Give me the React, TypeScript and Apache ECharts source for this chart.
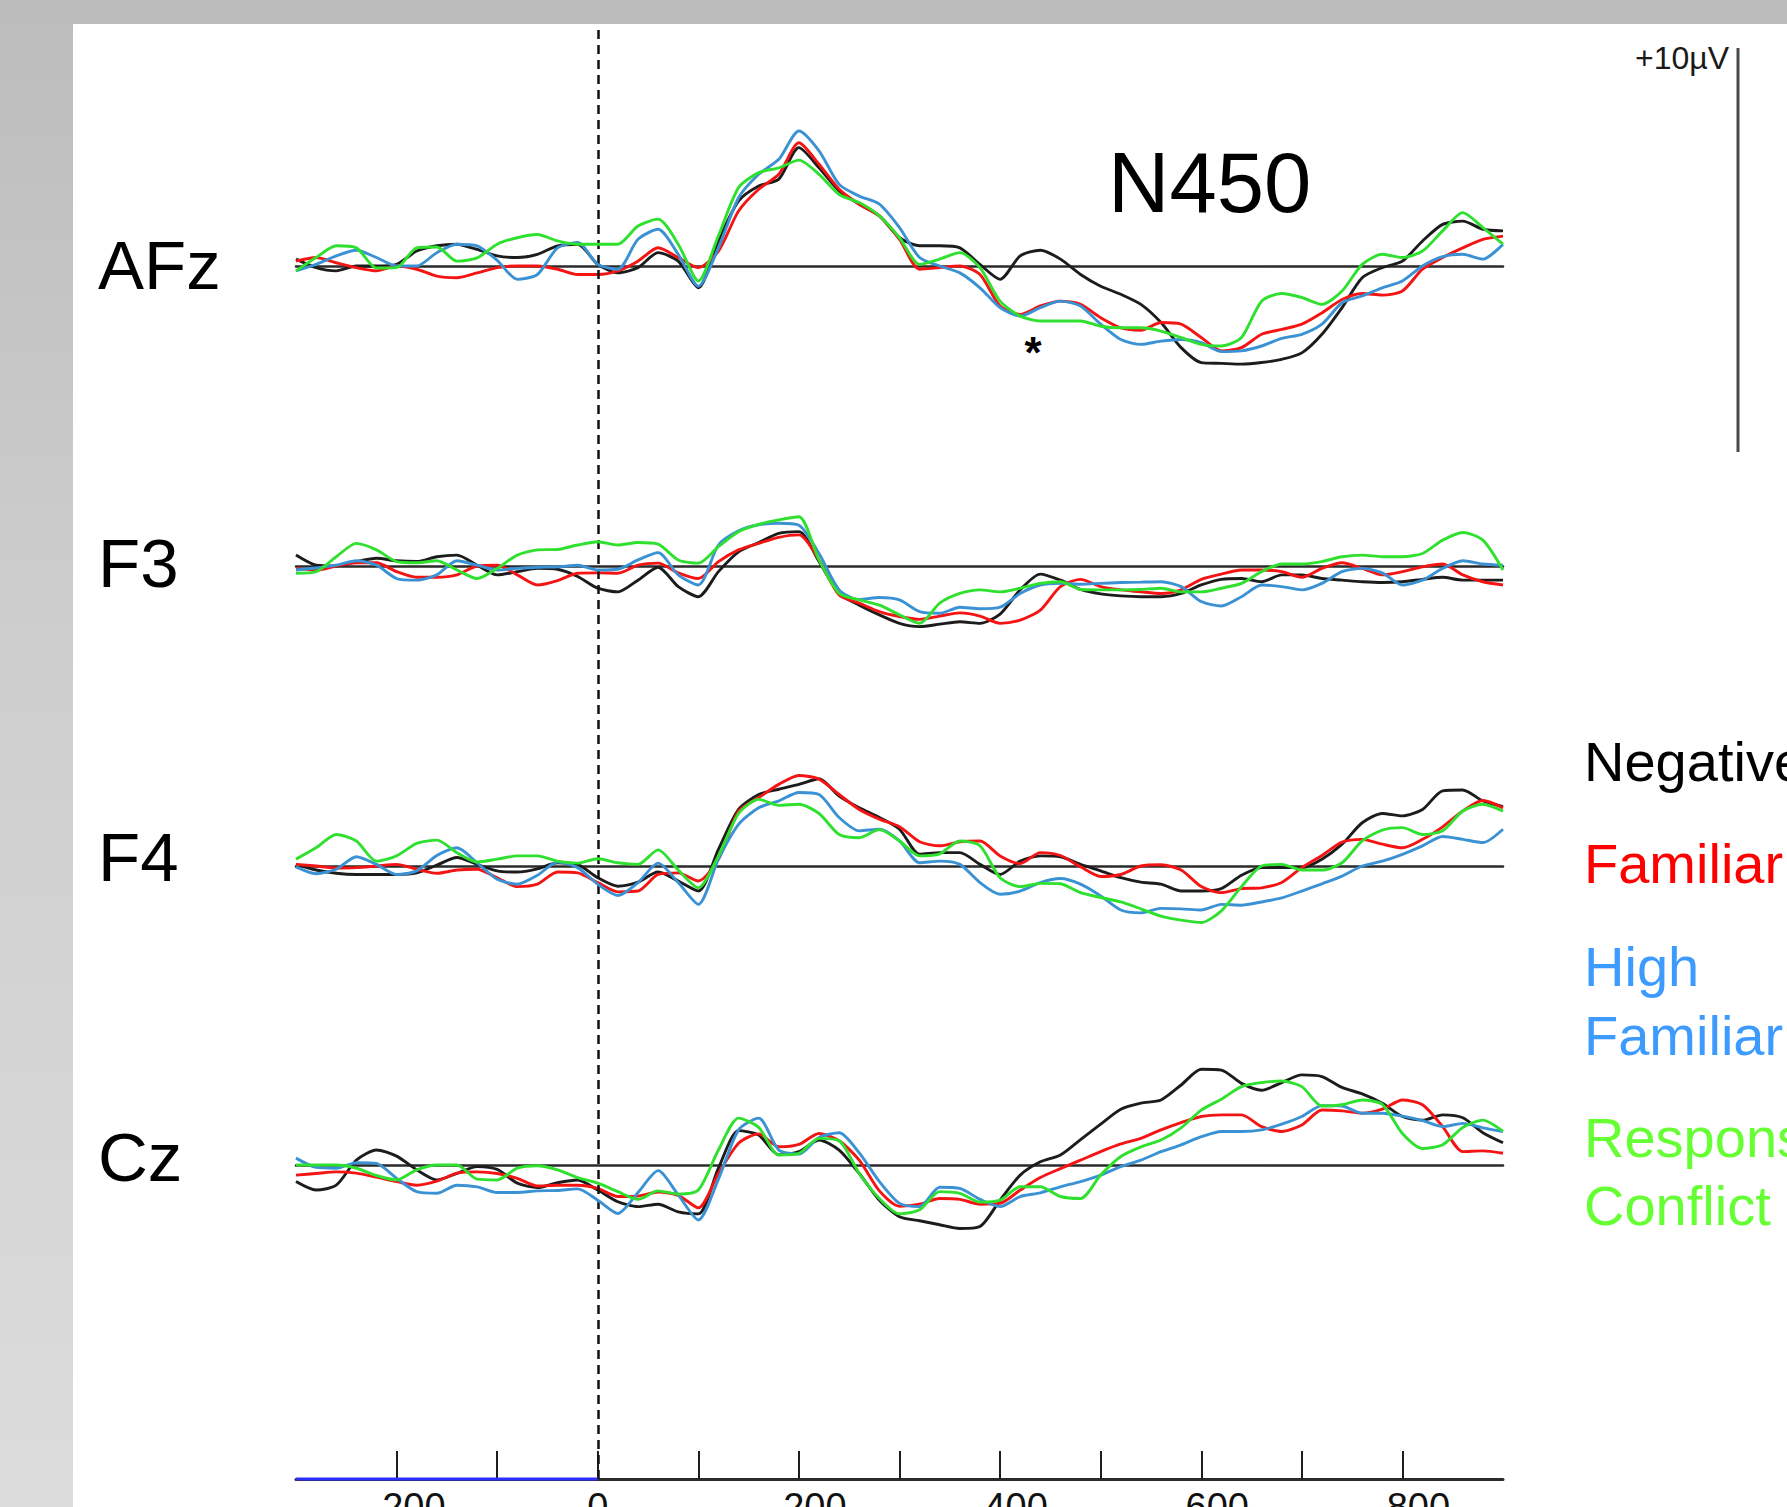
import React, { useEffect, useRef } from "react";
import * as echarts from "echarts";

// ---- DATA (µV) ----
const times = [
  -300, -280, -260, -240, -220, -200, -180, -160, -140, -120,
  -100, -80, -60, -40, -20, 0, 20, 40, 60, 80,
  100, 120, 140, 160, 180, 200, 220, 240, 260, 280,
  300, 320, 340, 360, 380, 400, 420, 440, 460, 480,
  500, 520, 540, 560, 580, 600, 620, 640, 660, 680,
  700, 720, 740, 760, 780, 800, 820, 840, 860, 880, 900,
];

const channelNames = ["AFz", "F3", "F4", "Cz"];
const conditionNames = ["Negative", "Familiar", "High Familiar", "Response Conflict"];
const tickValues = [-200, -100, 0, 100, 200, 300, 400, 500, 600, 700, 800];
const tickLabels = ["-200", "0", "200", "400", "600", "800"];
const scaleLabel = "+10µV";
const componentLabel = "N450";
const significanceMark = "*";
const preStimulus = [-300, 0];

const afzNegative = [0.17, -0.04, -0.12, 0, 0, 0.04, 0.37, 0.5, 0.54, 0.41, 0.25, 0.21, 0.29, 0.5, 0.54, 0.04, -0.17, -0.04, 0.33, 0.12, -0.54, 0.62, 1.61, 1.98, 2.15, 2.93, 2.43, 1.86, 1.53, 1.24, 0.7, 0.5, 0.5, 0.45, 0.04, -0.33, 0.25, 0.39, 0.17, -0.21, -0.5, -0.7, -0.95, -1.4, -2.02, -2.39, -2.41, -2.43, -2.39, -2.31, -2.15, -1.69, -1.03, -0.29, -0.04, 0.12, 0.62, 1.03, 1.11, 0.91, 0.87];
const afzFamiliar = [0.12, 0.21, 0.08, -0.04, -0.12, 0, -0.08, -0.25, -0.29, -0.17, -0.04, 0, 0, -0.08, -0.21, -0.21, -0.12, 0.12, 0.45, 0.21, -0.04, 0.37, 1.36, 1.9, 2.27, 3.05, 2.52, 1.9, 1.53, 1.24, 0.66, -0.08, -0.04, 0, -0.21, -0.99, -1.2, -0.99, -0.87, -0.95, -1.28, -1.53, -1.59, -1.4, -1.44, -1.77, -2.1, -2.02, -1.69, -1.57, -1.44, -1.16, -0.83, -0.68, -0.72, -0.62, -0.08, 0.21, 0.45, 0.66, 0.74];
const afzHighFamiliar = [-0.12, 0.04, 0.25, 0.39, 0.21, 0, 0, 0.33, 0.54, 0.5, 0.14, -0.33, -0.21, 0.45, 0.58, 0.04, -0.08, 0.66, 0.91, 0.29, -0.5, 0.45, 1.69, 2.27, 2.64, 3.34, 2.85, 2.02, 1.73, 1.53, 0.95, 0.21, 0, -0.17, -0.54, -1.03, -1.24, -1.03, -0.87, -0.99, -1.44, -1.82, -1.94, -1.86, -1.82, -1.9, -2.12, -2.1, -1.98, -1.79, -1.69, -1.44, -0.91, -0.74, -0.54, -0.37, 0, 0.23, 0.29, 0.17, 0.54];
const afzConflict = [-0.12, 0.21, 0.5, 0.45, -0.05, -0.04, 0.45, 0.47, 0.12, 0.2, 0.54, 0.7, 0.78, 0.62, 0.54, 0.54, 0.54, 0.99, 1.16, 0.54, -0.37, 0.75, 1.94, 2.31, 2.43, 2.62, 2.27, 1.77, 1.57, 1.24, 0.7, 0.04, 0.17, 0.33, -0.04, -0.87, -1.24, -1.36, -1.36, -1.36, -1.49, -1.53, -1.53, -1.61, -1.77, -1.94, -1.98, -1.77, -0.87, -0.68, -0.78, -0.95, -0.62, 0.04, 0.29, 0.21, 0.37, 0.87, 1.32, 0.95, 0.54];

const f3Negative = [0.27, 0.02, 0, 0.11, 0.19, 0.13, 0.11, 0.23, 0.27, 0.02, -0.22, -0.14, -0.06, -0.08, -0.26, -0.55, -0.64, -0.35, -0.03, -0.51, -0.76, -0.14, 0.35, 0.58, 0.81, 0.85, 0.11, -0.68, -0.97, -1.21, -1.42, -1.5, -1.44, -1.38, -1.42, -1.19, -0.59, -0.2, -0.35, -0.58, -0.69, -0.74, -0.76, -0.76, -0.68, -0.47, -0.33, -0.31, -0.39, -0.22, -0.22, -0.31, -0.35, -0.39, -0.41, -0.39, -0.33, -0.28, -0.35, -0.35, -0.35];
const f3Familiar = [-0.06, -0.1, 0, 0.08, 0.08, -0.14, -0.28, -0.28, -0.22, 0, 0.02, -0.22, -0.47, -0.36, -0.18, -0.17, -0.18, 0.02, 0.07, -0.17, -0.31, 0.11, 0.4, 0.56, 0.71, 0.77, 0.15, -0.72, -0.92, -1.13, -1.25, -1.32, -1.24, -1.16, -1.24, -1.42, -1.34, -1.09, -0.51, -0.33, -0.51, -0.59, -0.64, -0.68, -0.59, -0.33, -0.2, -0.1, -0.1, -0.14, -0.28, -0.06, 0.08, -0.06, -0.22, -0.14, -0.02, 0.05, -0.22, -0.39, -0.47];
const f3HighFamiliar = [-0.1, -0.05, 0.02, 0.13, 0.02, -0.31, -0.35, -0.22, 0.13, 0.02, -0.1, -0.06, -0.03, -0.02, 0.02, -0.1, -0.08, 0.15, 0.33, -0.22, -0.47, 0.52, 0.87, 1.02, 1.06, 1.01, 0.31, -0.59, -0.83, -0.78, -0.84, -1.13, -1.17, -1.02, -1.06, -1.02, -0.68, -0.47, -0.43, -0.45, -0.43, -0.41, -0.4, -0.39, -0.51, -0.88, -0.99, -0.76, -0.47, -0.51, -0.59, -0.43, -0.14, -0.06, -0.17, -0.47, -0.35, -0.06, 0.13, 0.05, 0.02];
const f3Conflict = [-0.18, -0.14, 0.23, 0.56, 0.4, 0.11, 0.08, 0.13, -0.1, -0.31, -0.06, 0.27, 0.4, 0.41, 0.52, 0.6, 0.52, 0.58, 0.54, 0.15, 0.07, 0.48, 0.85, 1.03, 1.14, 1.22, 0.15, -0.68, -0.84, -0.97, -1.21, -1.42, -0.92, -0.68, -0.59, -0.64, -0.55, -0.43, -0.39, -0.58, -0.59, -0.59, -0.58, -0.55, -0.64, -0.64, -0.55, -0.43, -0.14, 0.05, 0.05, 0.11, 0.23, 0.27, 0.23, 0.23, 0.31, 0.64, 0.83, 0.64, -0.1];

const f4Negative = [0.04, -0.1, -0.18, -0.21, -0.21, -0.21, -0.17, 0.02, 0.21, 0.04, -0.12, -0.15, -0.07, 0.08, 0.04, -0.29, -0.5, -0.4, -0.15, -0.37, -0.62, 0.41, 1.4, 1.77, 1.9, 2.02, 2.16, 1.73, 1.44, 1.2, 0.91, 0.29, 0.33, 0.33, 0.04, -0.21, 0.12, 0.25, 0.23, 0.04, -0.12, -0.29, -0.4, -0.45, -0.62, -0.62, -0.56, -0.23, -0.04, -0.04, -0.04, 0.17, 0.54, 1.07, 1.3, 1.24, 1.4, 1.86, 1.88, 1.61, 1.47];
const f4Familiar = [0.04, 0, -0.05, -0.04, 0, 0.04, -0.08, -0.18, -0.1, -0.08, -0.29, -0.51, -0.45, -0.15, -0.17, -0.41, -0.64, -0.62, -0.21, -0.17, -0.37, 0.17, 1.36, 1.69, 2.02, 2.24, 2.15, 1.77, 1.4, 1.16, 0.97, 0.6, 0.5, 0.6, 0.62, 0.25, 0.06, 0.33, 0.26, -0.02, -0.26, -0.21, 0, 0.03, -0.1, -0.51, -0.66, -0.56, -0.54, -0.41, -0.04, 0.26, 0.59, 0.66, 0.54, 0.45, 0.66, 0.97, 1.36, 1.62, 1.44];
const f4HighFamiliar = [-0.02, -0.19, -0.08, 0.23, 0.04, -0.21, -0.12, 0.26, 0.45, 0.08, -0.33, -0.45, -0.23, 0.1, -0.04, -0.45, -0.73, -0.41, 0.07, -0.41, -0.95, 0.17, 1.03, 1.44, 1.61, 1.82, 1.77, 1.2, 0.87, 0.91, 0.62, 0.08, 0.12, 0.04, -0.41, -0.7, -0.62, -0.41, -0.31, -0.45, -0.74, -1.09, -1.16, -1.05, -1.06, -1.09, -0.95, -0.97, -0.89, -0.79, -0.62, -0.44, -0.25, 0, 0.12, 0.29, 0.5, 0.73, 0.66, 0.58, 0.91];
const f4Conflict = [0.17, 0.45, 0.78, 0.62, 0.12, 0.25, 0.56, 0.64, 0.33, 0.1, 0.17, 0.25, 0.25, 0.12, 0.07, 0.18, 0.08, 0.04, 0.4, -0.1, -0.54, 0.25, 1.3, 1.65, 1.5, 1.53, 1.3, 0.78, 0.7, 0.9, 0.62, 0.25, 0.3, 0.62, 0.5, -0.29, -0.51, -0.43, -0.44, -0.66, -0.78, -0.89, -1.06, -1.24, -1.34, -1.4, -1.11, -0.51, 0, 0.04, -0.1, -0.1, 0.08, 0.62, 0.89, 0.95, 0.78, 0.87, 1.36, 1.53, 1.36];

const czNegative = [-0.41, -0.62, -0.5, 0.12, 0.37, 0.22, -0.12, -0.37, -0.21, -0.04, -0.11, -0.45, -0.56, -0.44, -0.37, -0.62, -0.91, -1.03, -0.97, -1.16, -1.21, -0.08, 0.85, 0.74, 0.25, 0.33, 0.62, 0.37, -0.21, -0.87, -1.28, -1.38, -1.48, -1.57, -1.52, -0.87, -0.25, 0.08, 0.25, 0.63, 1.01, 1.38, 1.53, 1.61, 1.98, 2.37, 2.35, 2.02, 1.85, 2.04, 2.23, 2.19, 1.92, 1.76, 1.53, 1.2, 1.11, 1.24, 1.17, 0.8, 0.55];
const czFamiliar = [-0.25, -0.21, -0.17, -0.2, -0.3, -0.41, -0.5, -0.4, -0.2, -0.17, -0.21, -0.33, -0.52, -0.5, -0.5, -0.58, -0.78, -0.77, -0.67, -0.75, -1.06, -0.21, 0.54, 0.77, 0.45, 0.51, 0.78, 0.6, 0.12, -0.64, -1.02, -0.97, -0.83, -0.85, -0.97, -0.95, -0.62, -0.31, -0.09, 0.12, 0.33, 0.52, 0.66, 0.87, 1.05, 1.2, 1.24, 1.24, 0.95, 0.83, 0.99, 1.36, 1.34, 1.28, 1.38, 1.61, 1.49, 0.95, 0.33, 0.35, 0.29];
const czHighFamiliar = [0.17, -0.06, -0.08, 0.06, 0.04, -0.33, -0.66, -0.7, -0.5, -0.54, -0.68, -0.68, -0.64, -0.63, -0.59, -0.87, -1.2, -0.68, -0.14, -0.74, -1.36, -0.35, 0.87, 1.16, 0.37, 0.27, 0.68, 0.8, 0.3, -0.41, -0.95, -1.03, -0.55, -0.58, -0.85, -1.03, -0.78, -0.69, -0.54, -0.41, -0.25, -0.04, 0.12, 0.33, 0.5, 0.7, 0.83, 0.83, 0.87, 1.01, 1.2, 1.47, 1.46, 1.28, 1.28, 1.21, 1.1, 0.95, 1.03, 0.92, 0.83];
const czConflict = [0, 0, 0, -0.08, -0.26, -0.37, -0.12, 0, 0, -0.35, -0.37, -0.08, -0.02, -0.12, -0.31, -0.45, -0.66, -0.85, -0.64, -0.72, -0.62, 0.37, 1.16, 0.93, 0.25, 0.29, 0.66, 0.6, -0.21, -0.83, -1.21, -1.11, -0.66, -0.7, -0.92, -0.87, -0.54, -0.54, -0.78, -0.83, -0.25, 0.21, 0.45, 0.62, 0.92, 1.36, 1.63, 1.94, 2.04, 2.08, 1.94, 1.46, 1.49, 1.61, 1.5, 0.78, 0.41, 0.5, 0.93, 1.11, 0.83];

const channelData = [
  [afzNegative, afzFamiliar, afzHighFamiliar, afzConflict],
  [f3Negative, f3Familiar, f3HighFamiliar, f3Conflict],
  [f4Negative, f4Familiar, f4HighFamiliar, f4Conflict],
  [czNegative, czFamiliar, czHighFamiliar, czConflict],
];

// ---- STYLE / LAYOUT ----
const lineColors = ["#1c1c1c", "#f51414", "#3a92d4", "#2fe02f"];
const legendColors = ["#000000", "#ff0000", "#3d9bff", "#66ff33"];
const FONT = "'Liberation Sans', Arial, sans-serif";
const PLOT_LEFT = 296;
const PLOT_WIDTH = 1207;
const BASELINES = [266, 566, 866, 1165];
const PX_PER_UV = 40.4;
const HALF_RANGE = 3.5;
const AXIS_TOP = 30;
const AXIS_Y = 1479;

export default function App() {
  const ref = useRef<HTMLDivElement>(null);

  useEffect(() => {
    if (!ref.current) return;
    const chart = echarts.init(ref.current, undefined, { renderer: "svg" });

    const grids: any[] = [];
    const xAxes: any[] = [];
    const yAxes: any[] = [];
    const series: any[] = [];
    const half = HALF_RANGE * PX_PER_UV;

    BASELINES.forEach((base, i) => {
      grids.push({ left: PLOT_LEFT, width: PLOT_WIDTH, top: base - half, height: 2 * half, containLabel: false, outerBoundsMode: "none" });
      xAxes.push({
        gridIndex: i, type: "value", min: -300, max: 900,
        axisLine: { show: true, onZero: true, lineStyle: { color: "#2a2a2a", width: 2.5 } },
        axisTick: { show: false }, axisLabel: { show: false }, splitLine: { show: false },
      });
      yAxes.push({ gridIndex: i, type: "value", min: -HALF_RANGE, max: HALF_RANGE, show: false, splitLine: { show: false } });
      channelData[i].forEach((vals, c) => {
        series.push({
          name: `${channelNames[i]} ${conditionNames[c]}`,
          type: "line", xAxisIndex: i, yAxisIndex: i,
          data: times.map((t, k) => [t, vals[k]]),
          showSymbol: false, symbol: "none", smooth: 0.25, clip: false,
          lineStyle: { color: lineColors[c], width: 2.9 },
          z: 3 + c,
        });
      });
    });

    // time axis grid (also hosts the dashed stimulus-onset line)
    const ai = BASELINES.length;
    grids.push({ left: PLOT_LEFT, width: PLOT_WIDTH, top: AXIS_TOP, height: AXIS_Y - AXIS_TOP, containLabel: false, outerBoundsMode: "none" });
    xAxes.push({
      gridIndex: ai, type: "value", min: -300, max: 900, interval: 100,
      axisLine: { show: true, lineStyle: { color: "#2b2b2b", width: 3 } },
      axisTick: { show: true, inside: true, length: 28, customValues: tickValues, lineStyle: { color: "#1e1e1e", width: 2 } },
      splitLine: { show: false },
      axisLabel: {
        show: true, margin: 9, hideOverlap: false,
        customValues: tickLabels.map(Number),
        formatter: (v: number) => {
          const s = String(v);
          if (!tickLabels.includes(s)) return "";
          if (v === 0) return `{z|${s}}`;
          if (v < 0) return `{n|${s}}`;
          return `{p|${s}}`;
        },
        rich: {
          z: { fontSize: 38, fontFamily: FONT, color: "#111" },
          n: { fontSize: 38, fontFamily: FONT, color: "#111", padding: [0, 0, 0, 22] },
          p: { fontSize: 38, fontFamily: FONT, color: "#111", padding: [0, 0, 0, 32] },
        },
      },
    });
    yAxes.push({ gridIndex: ai, type: "value", min: 0, max: 1, show: false, splitLine: { show: false } });
    series.push({
      name: "pre-stimulus",
      type: "line", xAxisIndex: ai, yAxisIndex: ai,
      data: preStimulus.map((t) => [t, 0]),
      showSymbol: false, symbol: "none", clip: false,
      lineStyle: { color: "#2f2fff", width: 3 },
      z: 5,
      markLine: {
        silent: true, symbol: ["none", "none"], label: { show: false },
        lineStyle: { color: "#111", width: 2.5, type: [9, 6] },
        data: [{ xAxis: 0 }],
      },
    });

    const textEl = (text: string, x: number, y: number, size: number, color: string, align = "left", weight = "normal") => ({
      type: "text", x, y, silent: true,
      style: {
        text, fill: color, fontSize: size, fontFamily: FONT, fontWeight: weight,
        textAlign: align, textVerticalAlign: "middle",
      },
    });

    const labelYs = [265, 563, 857, 1157];
    const graphics: any[] = [];
    channelNames.forEach((n, i) => graphics.push(textEl(n, 98, labelYs[i], 69, "#000")));
    graphics.push(textEl(componentLabel, 1108, 182, 85, "#000"));
    graphics.push(textEl(significanceMark, 1033, 352, 44, "#000", "center", "bold"));
    graphics.push(textEl(scaleLabel, 1729, 58, 32, "#1a1a1a", "right"));
    graphics.push({ type: "line", silent: true, shape: { x1: 1738, y1: 48, x2: 1738, y2: 452 }, style: { stroke: "#4a4a4a", lineWidth: 3 } });
    const legendLines = [
      { t: "Negative", y: 761, c: 0 },
      { t: "Familiar", y: 863, c: 1 },
      { t: "High", y: 966, c: 2 },
      { t: "Familiar", y: 1035, c: 2 },
      { t: "Response", y: 1137, c: 3 },
      { t: "Conflict", y: 1205, c: 3 },
    ];
    legendLines.forEach((l) => graphics.push(textEl(l.t, 1584, l.y, 56, legendColors[l.c])));

    chart.setOption({
      animation: false,
      grid: grids,
      xAxis: xAxes,
      yAxis: yAxes,
      series,
      graphic: { elements: graphics },
    });

    return () => chart.dispose();
  }, []);

  return (
    <div
      ref={ref}
      style={{
        position: "absolute", left: 0, top: 0, width: 1787, height: 1507,
        background:
          "linear-gradient(#ffffff, #ffffff) 73px 24px / 1714px 1483px no-repeat, linear-gradient(180deg, #bcbcbc 0%, #cdcdcd 40%, #dcdcdc 100%)",
      }}
    />
  );
}
